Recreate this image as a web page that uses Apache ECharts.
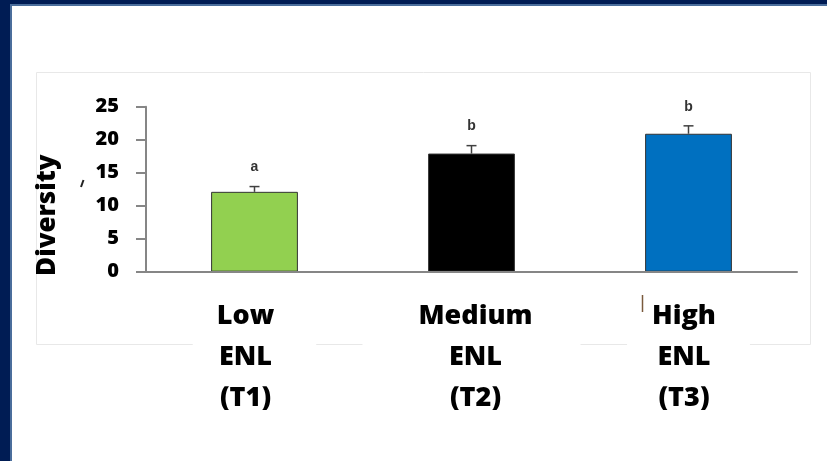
<!DOCTYPE html>
<html>
<head>
<meta charset="utf-8">
<script src="https://cdn.jsdelivr.net/npm/echarts@6/dist/echarts.min.js"></script>
<style>
  html, body { margin: 0; padding: 0; background: #fff; }
  #chart { width: 827px; height: 461px; }
</style>
</head>
<body>
<div id="chart"></div>
<script>
// Species diversity by ENL treatment level (mean ± SE, letters = significance groups)
const categories = ['Low\nENL\n(T1)', 'Medium\nENL\n(T2)', 'High\nENL\n(T3)'];
const diversity = [12.1, 17.9, 20.9];
const stdError = [0.8, 1.2, 1.2];
const groupLetters = ['a', 'b', 'b'];
const barColors = ['#92d050', '#000000', '#0070c0'];
const yTicks = { min: 0, max: 25, interval: 5 };

// per-label padding: white boxes behind the category text
const labelPads = [
  [0, 42, 12, 24],
  [0, 48, 12, 56],
  [0, 34, 12, 25]
];

const chart = echarts.init(document.getElementById('chart'));

chart.setOption({
  backgroundColor: '#ffffff',
  animation: false,
  grid: { left: 146, right: 30, top: 106.7, bottom: 189.3 },
  graphic: [
    // slide frame
    { type: 'rect', z: -20, shape: { x: 0, y: 0, width: 827, height: 4 }, style: { fill: '#001c54' } },
    { type: 'rect', z: -20, shape: { x: 0, y: 0, width: 10, height: 461 }, style: { fill: '#001c54' } },
    { type: 'rect', z: -19, shape: { x: 10, y: 4, width: 817, height: 2 }, style: { fill: '#4b6e9c' } },
    { type: 'rect', z: -19, shape: { x: 10, y: 4, width: 2, height: 457 }, style: { fill: '#4b6e9c' } },
    // chart area outline
    { type: 'rect', z: -10, shape: { x: 36.5, y: 72.5, width: 774, height: 272 }, style: { fill: 'none', stroke: '#e8e8e8', lineWidth: 1 } },
    // small stray marks
    { type: 'line', z: 5, shape: { x1: 83.5, y1: 180, x2: 81, y2: 187 }, style: { stroke: '#222', lineWidth: 2 } },
    { type: 'line', z: 50, shape: { x1: 642.5, y1: 295, x2: 642.5, y2: 312 }, style: { stroke: '#7a5a3c', lineWidth: 1.5 } }
  ],
  xAxis: {
    type: 'category',
    data: categories.map((c, i) => ({
      value: c,
      textStyle: { padding: labelPads[i] }
    })),
    axisLine: { lineStyle: { color: '#868686', width: 2 } },
    axisTick: { show: false },
    axisLabel: {
      interval: 0,
      margin: 24,
      color: '#000',
      fontFamily: 'Open Sans',
      fontWeight: 800,
      fontSize: 27,
      lineHeight: 41,
      backgroundColor: '#ffffff'
    },
    z: 10
  },
  yAxis: {
    type: 'value',
    min: yTicks.min,
    max: yTicks.max,
    interval: yTicks.interval,
    name: 'Diversity',
    nameLocation: 'middle',
    nameRotate: 90,
    nameGap: 85,
    nameTextStyle: {
      color: '#000',
      fontFamily: 'Open Sans',
      fontWeight: 800,
      fontSize: 26,
      padding: [0, 52, 0, 0]
    },
    axisLine: { show: true, lineStyle: { color: '#868686', width: 2 } },
    axisTick: { show: true, inside: false, length: 10, lineStyle: { color: '#868686', width: 2 } },
    splitLine: { show: false },
    axisLabel: {
      margin: 27,
      color: '#000',
      fontFamily: 'Open Sans',
      fontWeight: 800,
      fontSize: 20
    }
  },
  series: [
    {
      type: 'bar',
      barWidth: '40%',
      data: diversity.map((v, i) => ({
        value: v,
        itemStyle: { color: barColors[i], borderColor: '#333333', borderWidth: 1 }
      }))
    },
    {
      type: 'custom',
      z: 5,
      data: diversity.map((v, i) => [i, v, v + stdError[i], groupLetters[i]]),
      renderItem: function (params, api) {
        const base = api.coord([api.value(0), api.value(1)]);
        const top = api.coord([api.value(0), api.value(2)]);
        const half = 5;
        const letter = groupLetters[params.dataIndex];
        return {
          type: 'group',
          children: [
            { type: 'line', shape: { x1: base[0], y1: base[1], x2: top[0], y2: top[1] }, style: { stroke: '#404040', lineWidth: 1.5 } },
            { type: 'line', shape: { x1: top[0] - half, y1: top[1], x2: top[0] + half, y2: top[1] }, style: { stroke: '#404040', lineWidth: 1.5 } },
            {
              type: 'text',
              style: {
                text: letter,
                x: top[0],
                y: top[1] - 12,
                align: 'center',
                verticalAlign: 'bottom',
                fill: '#333',
                font: 'bold 14px "Liberation Sans", Arial, sans-serif'
              }
            }
          ]
        };
      }
    }
  ]
});
</script>
</body>
</html>
